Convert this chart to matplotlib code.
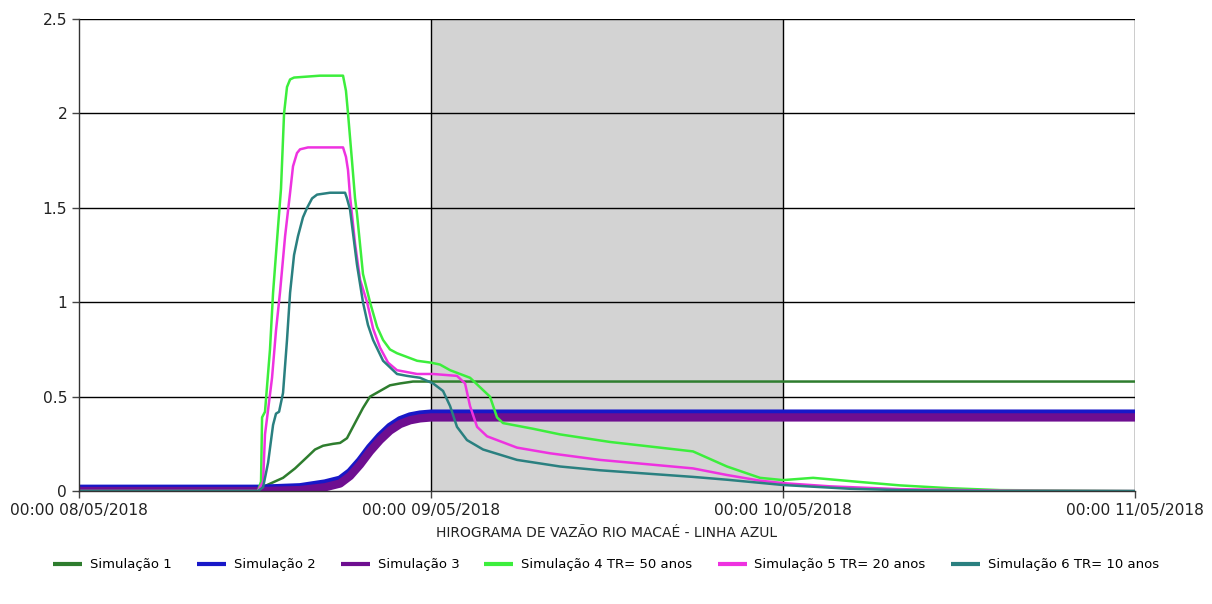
import matplotlib
matplotlib.use("Agg")
import matplotlib.pyplot as plt

plt.rcParams['font.family'] = ['DejaVu Sans']

# Hydrograph series: time in hours since 00:00 08/05/2018, discharge values
t1 = [0, 12.2, 12.48, 13.91, 14.73, 15.55, 16.09, 16.64, 17.32, 17.80, 18.27,
      18.61, 18.95, 19.36, 19.84, 20.52, 21.20, 21.89, 22.77, 72]
q1 = [0.0, 0.0, 0.02, 0.07, 0.12, 0.18, 0.22, 0.24, 0.25, 0.255, 0.28,
      0.33, 0.38, 0.44, 0.50, 0.53, 0.56, 0.57, 0.58, 0.58]

t2 = [0, 12.34, 15.07, 16.77, 17.80, 18.48, 19.16, 19.84, 20.52, 21.20, 21.89,
      22.57, 23.25, 24.0, 25.98, 72]
q2 = [0.012, 0.012, 0.02, 0.04, 0.06, 0.10, 0.16, 0.23, 0.29, 0.34, 0.375,
      0.395, 0.405, 0.41, 0.41, 0.41]

t3 = [0, 12.34, 15.07, 16.77, 17.80, 18.48, 19.16, 19.84, 20.52, 21.20, 21.89,
      22.57, 23.25, 24.0, 25.98, 72]
q3 = [0.0, 0.0, 0.005, 0.02, 0.04, 0.08, 0.14, 0.21, 0.27, 0.32, 0.355,
      0.375, 0.385, 0.39, 0.39, 0.39]

t4 = [0, 12.2, 12.41, 12.48, 12.68, 13.02, 13.23, 13.57, 13.77, 13.98, 14.18,
      14.39, 14.66, 16.43, 18.0, 18.20, 18.34, 18.61, 18.82, 18.95, 19.36,
      19.84, 20.32, 20.73, 21.20, 21.68, 23.05, 24.0, 24.61, 25.30, 25.98,
      26.66, 27.34, 28.02, 28.50, 28.91, 30.95, 32.80, 36.20, 39.61, 41.86,
      44.18, 46.43, 48.0, 50.05, 53.25, 55.98, 59.39, 62.80, 72]
q4 = [0.0, 0.0, 0.05, 0.39, 0.42, 0.75, 1.05, 1.40, 1.60, 2.0, 2.14,
      2.18, 2.19, 2.2, 2.2, 2.12, 2.0, 1.75, 1.55, 1.47, 1.15,
      1.0, 0.87, 0.80, 0.75, 0.73, 0.69, 0.68, 0.67, 0.64, 0.62,
      0.60, 0.55, 0.50, 0.39, 0.36, 0.33, 0.30, 0.26, 0.23, 0.21,
      0.13, 0.07, 0.058, 0.07, 0.048, 0.03, 0.015, 0.005, 0.0]

t5 = [0, 12.2, 12.55, 12.68, 12.89, 13.16, 13.43, 13.70, 14.05, 14.39, 14.59,
      14.86, 15.07, 15.61, 18.0, 18.20, 18.34, 18.48, 18.82, 19.16, 19.64,
      20.05, 20.52, 21.07, 21.68, 23.05, 24.14, 25.77, 26.32, 26.66, 27.14,
      27.82, 29.86, 32.11, 35.52, 41.86, 44.18, 46.43, 48.0, 51.2, 55.98,
      62.8, 72]
q5 = [0.0, 0.0, 0.05, 0.30, 0.43, 0.60, 0.85, 1.05, 1.35, 1.58, 1.72,
      1.79, 1.81, 1.82, 1.82, 1.77, 1.70, 1.56, 1.31, 1.12, 1.0,
      0.86, 0.76, 0.68, 0.64, 0.62, 0.62, 0.61, 0.57, 0.45, 0.34,
      0.29, 0.23, 0.20, 0.165, 0.12, 0.085, 0.055, 0.042, 0.025, 0.01,
      0.002, 0.0]

t6 = [0, 12.2, 12.55, 12.89, 13.23, 13.43, 13.64, 13.91, 14.18, 14.39, 14.66,
      14.93, 15.27, 15.55, 15.89, 16.23, 17.11, 18.14, 18.27, 18.48, 18.95,
      19.36, 19.70, 20.05, 20.73, 21.68, 22.36, 23.25, 24.14, 24.82, 25.30,
      25.77, 26.45, 27.55, 29.86, 32.80, 35.52, 41.86, 44.18, 48.0, 52.57,
      55.98, 62.8, 72]
q6 = [0.0, 0.0, 0.02, 0.15, 0.35, 0.41, 0.42, 0.52, 0.80, 1.05, 1.25,
      1.35, 1.45, 1.50, 1.55, 1.57, 1.58, 1.58, 1.55, 1.49, 1.20,
      1.0, 0.88, 0.80, 0.69, 0.62, 0.61, 0.60, 0.57, 0.53, 0.45,
      0.34, 0.27, 0.22, 0.165, 0.13, 0.11, 0.075, 0.06, 0.032, 0.012,
      0.005, 0.0, 0.0]

series_labels = ["Simulação 1", "Simulação 2", "Simulação 3",
                 "Simulação 4 TR= 50 anos", "Simulação 5 TR= 20 anos",
                 "Simulação 6 TR= 10 anos"]

x_ticks = [0, 24, 48, 72]
x_tick_labels = ["00:00 08/05/2018", "00:00 09/05/2018",
                 "00:00 10/05/2018", "00:00 11/05/2018"]
y_ticks = [0, 0.5, 1, 1.5, 2, 2.5]
y_tick_labels = ["0", "0.5", "1", "1.5", "2", "2.5"]

colors = ["#2E7D2E", "#1818C8", "#6E0E90", "#3CEE3C", "#EE32E0", "#2A8080"]
widths = [1.8, 6.0, 6.0, 1.8, 1.8, 1.8]

fig = plt.figure(figsize=(12.12, 6.04), dpi=100)
ax = fig.add_axes([0.0652, 0.187, 0.8713, 0.7815])

# shaded day
ax.axvspan(24, 48, color="#D3D3D3", zorder=0, lw=0)

for yv in y_ticks[1:]:
    ax.axhline(yv, color="black", lw=1.0, zorder=1)
for xv in x_ticks[1:]:
    ax.axvline(xv, color="black", lw=1.0, zorder=1)

data = [(t1, q1), (t2, q2), (t3, q3), (t4, q4), (t5, q5), (t6, q6)]
for (t, q), c, w, lab in zip(data, colors, widths, series_labels):
    ax.plot(t, q, color=c, lw=w, label=lab, zorder=3,
            solid_capstyle="butt", solid_joinstyle="round", clip_on=True)

ax.set_xlim(0, 72)
ax.set_ylim(0, 2.5)
ax.set_xticks(x_ticks)
ax.set_xticklabels(x_tick_labels, fontsize=11.2, color="#222222")
ax.set_yticks(y_ticks)
ax.set_yticklabels(y_tick_labels, fontsize=11.2, color="#222222")
ax.tick_params(axis="both", direction="out", length=5, width=1, color="#444444")

for side in ["top", "right"]:
    ax.spines[side].set_visible(False)
for side in ["left", "bottom"]:
    ax.spines[side].set_color("#333333")
    ax.spines[side].set_linewidth(1.0)
    ax.spines[side].set_zorder(4)

ax.set_xlabel("HIROGRAMA DE VAZÃO RIO MACAÉ - LINHA AZUL", fontsize=10,
              labelpad=6, color="#222222")

handles, labels = ax.get_legend_handles_labels()
leg = fig.legend(handles, labels, loc="center", bbox_to_anchor=(0.5, 0.065),
                 ncol=6, frameon=False, fontsize=9.5, handlelength=2.2,
                 columnspacing=1.9, handletextpad=0.6)
for h in leg.get_lines():
    h.set_linewidth(3)

fig.savefig("out.png", dpi=100)
